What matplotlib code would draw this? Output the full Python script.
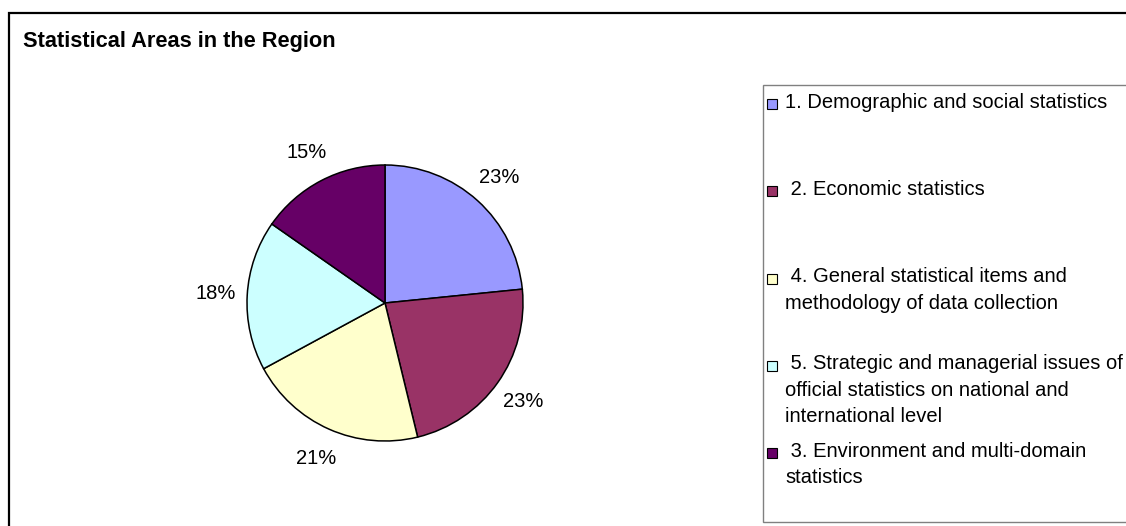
import matplotlib
matplotlib.use("Agg")
import matplotlib.pyplot as plt
from matplotlib.patches import Rectangle
from matplotlib.lines import Line2D

plt.rcParams['font.family'] = ['Liberation Sans', 'DejaVu Sans']

# ---- data ----
slice_names = ["1. Demographic and social statistics",
               "2. Economic statistics",
               "4. General statistical items and methodology of data collection",
               "5. Strategic and managerial issues of official statistics on national and international level",
               "3. Environment and multi-domain statistics"]
slice_values = [23.4, 22.8, 20.9, 17.6, 15.3]
slice_colors = ["#9999FF", "#993366", "#FFFFCC", "#CCFFFF", "#660066"]

legend_labels = ["1. Demographic and social statistics",
                 " 2. Economic statistics",
                 " 4. General statistical items and\nmethodology of data collection",
                 " 5. Strategic and managerial issues of\nofficial statistics on national and\ninternational level",
                 " 3. Environment and multi-domain\nstatistics"]
legend_colors = ["#9999FF", "#993366", "#FFFFCC", "#CCFFFF", "#660066"]

chart_title = "Statistical Areas in the Region"
page_heading = "Region by Statistical Subject"

W, H = 1126, 526
fig = plt.figure(figsize=(W / 100, H / 100), dpi=100)
fig.patch.set_facecolor("white")

# overlay axes in pixel coordinates (y downward)
bg = fig.add_axes([0, 0, 1, 1])
bg.set_xlim(0, W)
bg.set_ylim(H, 0)
bg.axis("off")

# cut-off page heading (only descenders visible)
bg.text(448, -7.5, page_heading, family="Liberation Serif", fontweight="bold",
        fontstyle="italic", fontsize=24, ha="left", va="baseline", clip_on=False)

# chart area border (left and top)
bg.add_line(Line2D([9, 9, W + 5], [H + 5, 13, 13], color="black", lw=1.6,
                   solid_joinstyle="miter"))

# chart title
bg.text(23, 42, chart_title, fontsize=15.7, fontweight="bold", ha="left", va="center")

# pie
cx, cy, r = 385, 303, 138
half = 150
pax = fig.add_axes([(cx - half) / W, (H - cy - half) / H, 2 * half / W, 2 * half / H])
pax.pie(slice_values, colors=slice_colors, startangle=90, counterclock=False, radius=1,
        wedgeprops=dict(edgecolor="black", linewidth=1.1),
        autopct=lambda p: f"{p:.0f}%", pctdistance=1.23,
        textprops=dict(fontsize=14.5, color="black"))
lim = half / r
pax.set_xlim(-lim, lim)
pax.set_ylim(-lim, lim)
pax.set_aspect("equal")
pax.axis("off")

# legend box
bg.add_patch(Rectangle((763, 85), 400, 437, facecolor="white", edgecolor="#808080",
                       lw=1.0, clip_on=True))
row_top = 104
row_step = 87.3
for i, (lab, col) in enumerate(zip(legend_labels, legend_colors)):
    yc = row_top + i * row_step
    bg.add_patch(Rectangle((767, yc - 5), 10, 10, facecolor=col, edgecolor="black", lw=0.8))
    bg.text(785, yc - 11.5, lab, fontsize=14.5, ha="left", va="top", linespacing=1.5)

fig.savefig("out.png", dpi=100)
